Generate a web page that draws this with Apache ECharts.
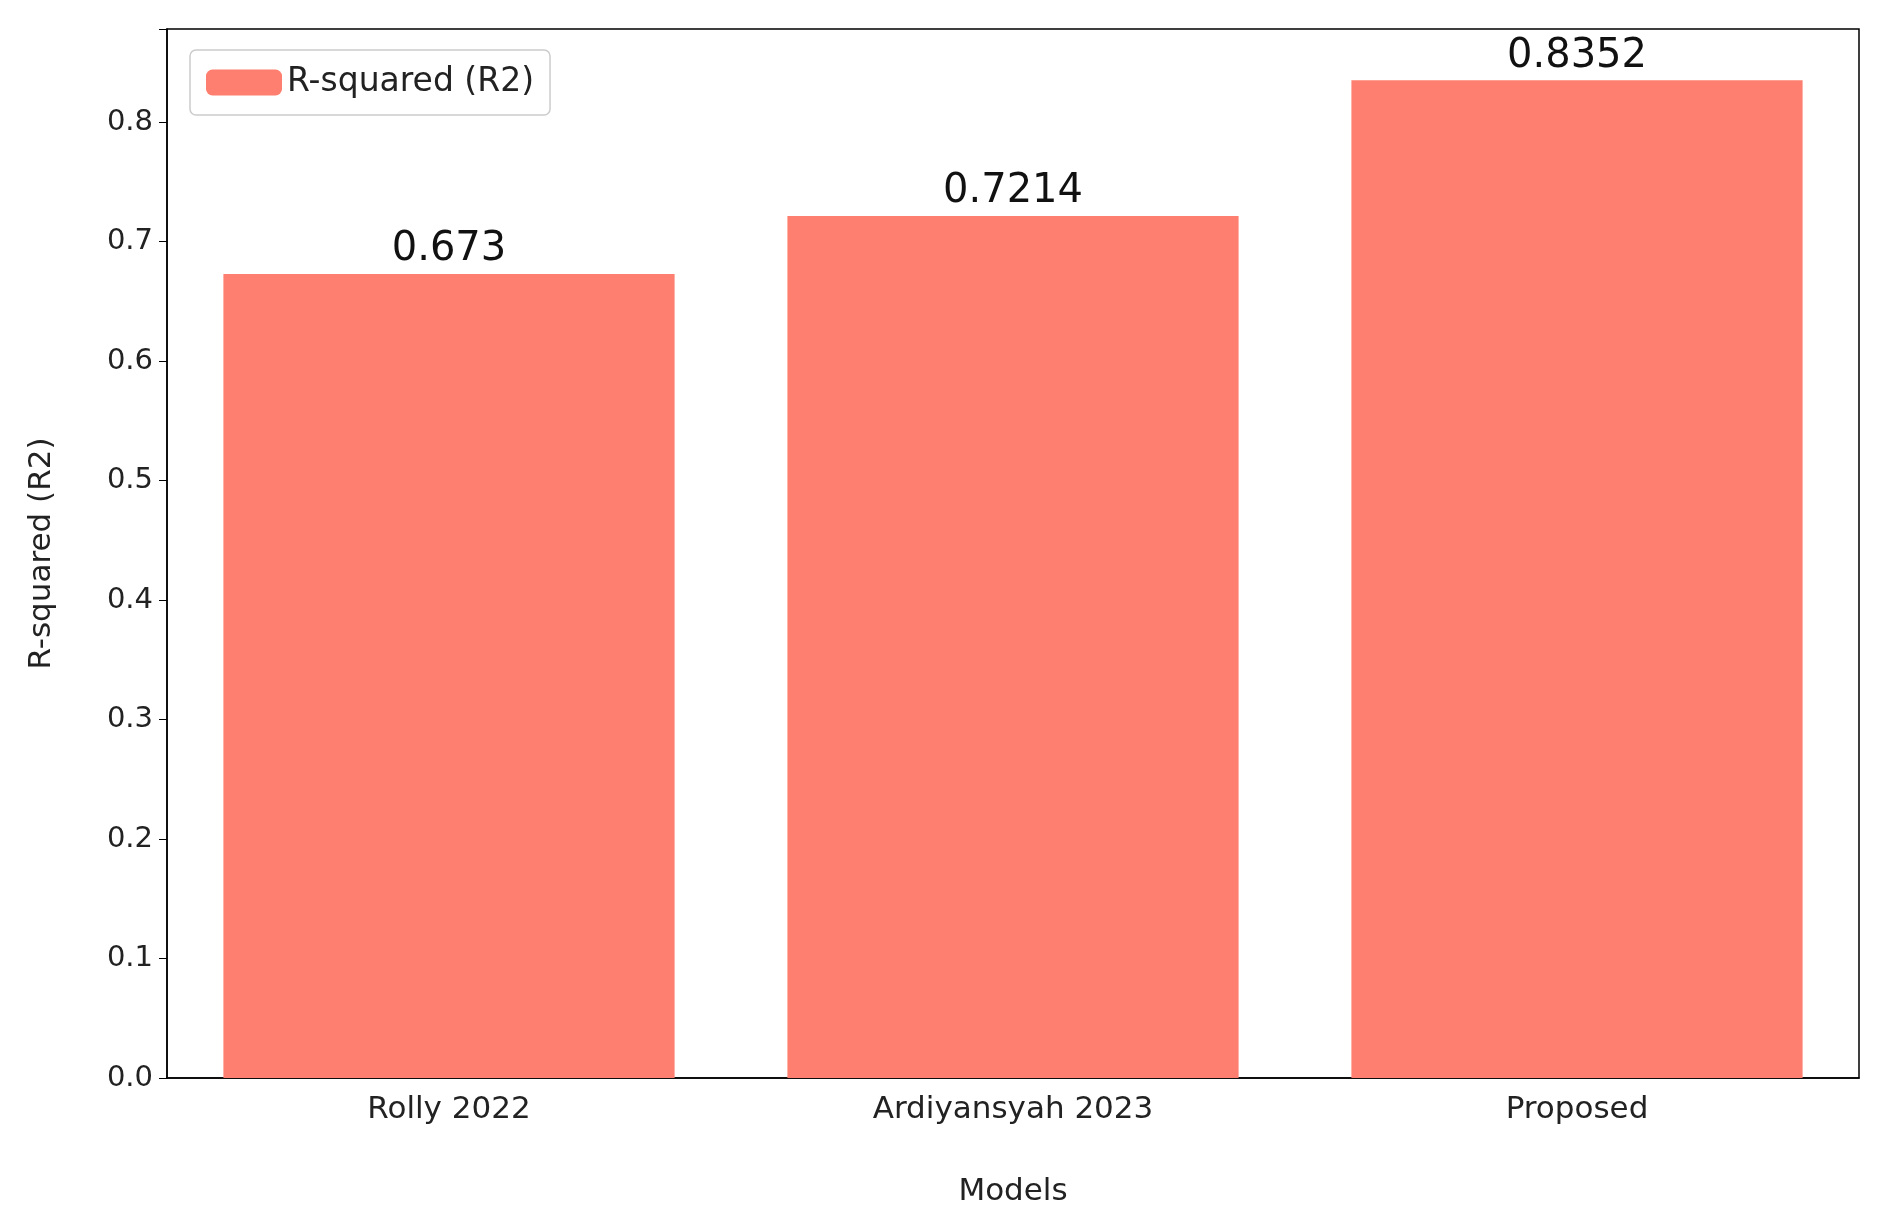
<!DOCTYPE html><html><head><meta charset="utf-8"><script src="https://cdn.jsdelivr.net/npm/echarts@6/dist/echarts.min.js"></script></head><body style="margin:0;background:#fff"><div id="c" style="width:1884px;height:1217px"></div><script>
const categories=["Rolly 2022","Ardiyansyah 2023","Proposed"];
const values=[0.673,0.7214,0.8352];
const yTicks=[0,0.1,0.2,0.3,0.4,0.5,0.6,0.7,0.8];
const ch=echarts.init(document.getElementById('c'));
const F='DejaVu Sans';
ch.setOption({animation:false,
grid:{left:167,right:25,top:29,bottom:139,show:true,borderColor:'#000',borderWidth:1.5},
legend:{show:true,left:190,top:50,itemWidth:76,itemHeight:26,padding:[16,16],borderColor:'#ccc',borderWidth:1.5,borderRadius:6,textStyle:{fontFamily:F,fontSize:33,color:'#222'},data:['R-squared (R2)']},
xAxis:{type:'category',data:categories,name:'Models',nameLocation:'middle',nameGap:98,nameTextStyle:{fontFamily:F,fontSize:31,color:'#222'},axisLine:{lineStyle:{color:'#000',width:1.5}},axisTick:{alignWithLabel:true,length:8,lineStyle:{color:'#000'}},axisLabel:{fontFamily:F,fontSize:31,color:'#222',margin:16}},
yAxis:{type:'value',min:0,max:0.878,interval:0.1,name:'R-squared (R2)',nameLocation:'middle',nameGap:110,nameTextStyle:{fontFamily:F,fontSize:31,color:'#222'},splitLine:{show:false},axisLine:{show:true,lineStyle:{color:'#000',width:1.5}},axisTick:{show:true,length:8,lineStyle:{color:'#000'}},axisLabel:{fontFamily:F,fontSize:29,color:'#222',margin:14,formatter:v=>yTicks.some(t=>Math.abs(t-v)<1e-9)?v.toFixed(1):''}},
series:[{name:'R-squared (R2)',type:'bar',data:values,barCategoryGap:'20%',itemStyle:{color:'#fe7f6f'},label:{show:true,position:'top',distance:4,fontFamily:F,fontSize:40,color:'#111',formatter:p=>String(p.value)}}]});
</script></body></html>
